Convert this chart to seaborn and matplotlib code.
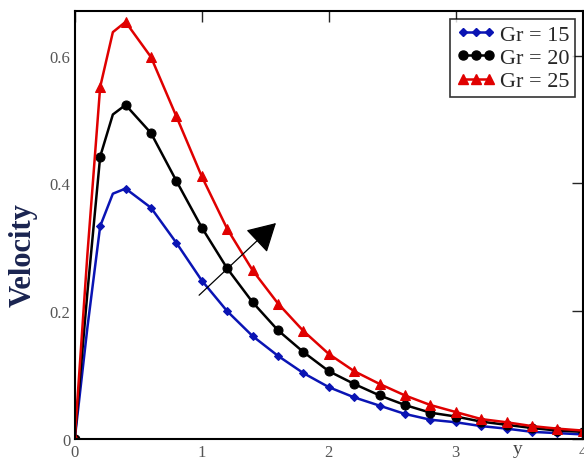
import pandas as pd
import matplotlib
matplotlib.use('Agg')
import matplotlib.pyplot as plt
from matplotlib.lines import Line2D
import seaborn as sns

# datos
y_pos = [0, 0.1, 0.2, 0.3, 0.4, 0.6, 0.8, 1.0, 1.2, 1.4, 1.6, 1.8, 2.0,
         2.2, 2.4, 2.6, 2.8, 3.0, 3.2, 3.4, 3.6, 3.8, 4.0]
vel_gr15 = [0, 0.175, 0.333, 0.384, 0.392, 0.362, 0.307, 0.248, 0.200, 0.161,
            0.130, 0.103, 0.081, 0.065, 0.052, 0.039, 0.030, 0.026, 0.020,
            0.016, 0.011, 0.009, 0.007]
vel_gr20 = [0, 0.23, 0.442, 0.508, 0.523, 0.479, 0.404, 0.331, 0.267, 0.214,
            0.170, 0.136, 0.106, 0.086, 0.068, 0.053, 0.041, 0.035, 0.027,
            0.022, 0.017, 0.013, 0.011]
vel_gr25 = [0, 0.29, 0.551, 0.637, 0.653, 0.598, 0.505, 0.411, 0.329, 0.264,
            0.212, 0.169, 0.133, 0.106, 0.086, 0.068, 0.053, 0.042, 0.031,
            0.026, 0.020, 0.016, 0.013]
etiquetas = ['Gr = 15', 'Gr = 20', 'Gr = 25']
x_ticks = [0, 1, 2, 3, 4]
y_ticks = [0, 0.2, 0.4, 0.6]

df = pd.DataFrame({'y': y_pos, 'Gr15': vel_gr15, 'Gr20': vel_gr20, 'Gr25': vel_gr25})
marcas = [i for i, v in enumerate(y_pos) if i != 1 and i != 3]

sns.set_style("white")
plt.rcParams['font.family'] = ['Liberation Serif', 'DejaVu Serif']

fig = plt.figure(figsize=(5.84, 4.64), dpi=100)
ax = fig.add_axes([0.128, 0.052, 0.870, 0.922])

estilos = [('Gr15', '#0a14b4', 'D', 4.5),
           ('Gr20', 'black', 'o', 6.5),
           ('Gr25', '#e00000', '^', 6.5)]
handles = []
for (col, color, mk, ms), lab in zip(estilos, etiquetas):
    sns.lineplot(data=df, x='y', y=col, ax=ax, color=color, lw=1.8,
                 marker=mk, markersize=ms, markevery=marcas,
                 markeredgecolor=color, markerfacecolor=color)
    handles.append(Line2D([0], [0], color=color, lw=1.8, marker=mk,
                          markersize=ms, markerfacecolor=color,
                          markeredgecolor=color))

ax.set_xlim(0, 4)
ax.set_ylim(0, 0.67)
ax.set_xticks(x_ticks)
ax.set_yticks(y_ticks)
ax.set_xticklabels(['0', '1', '2', '3', '4'])
ax.set_yticklabels(['0', '0.2', '0.4', '0.6'])
ax.tick_params(direction='in', length=8, width=1, top=True, right=True,
               labelsize=12, labelcolor='#555555')
ax.tick_params(axis='y', pad=3)
ax.tick_params(axis='x', pad=4)
for s in ax.spines.values():
    s.set_color('black')
    s.set_linewidth(1.5)

ax.set_ylabel('Velocity', fontsize=22, fontweight='bold', color='#1a2450')
ax.yaxis.set_label_coords(-0.102, 0.432)
ax.yaxis.label.set_verticalalignment('center')
ax.set_xlabel('y', fontsize=14, color='#444444')
ax.xaxis.set_label_coords(0.872, -0.002)
ax.xaxis.label.set_verticalalignment('top')

ax.annotate('', xy=(1.6, 0.341), xytext=(0.963, 0.222),
            arrowprops=dict(arrowstyle='-|>,head_length=0.8,head_width=0.45',
                            color='black', lw=0.9, mutation_scale=22))

leg = ax.legend(handles=handles, labels=etiquetas, loc='upper right',
                bbox_to_anchor=(0.994, 0.992), numpoints=3, handlelength=1.8,
                handletextpad=0.2, fontsize=16, frameon=True, fancybox=False,
                borderpad=0.25, labelspacing=0.12, borderaxespad=0.2)
leg.get_frame().set_edgecolor('black')
leg.get_frame().set_linewidth(1.2)

fig.savefig('out.png', dpi=100)
